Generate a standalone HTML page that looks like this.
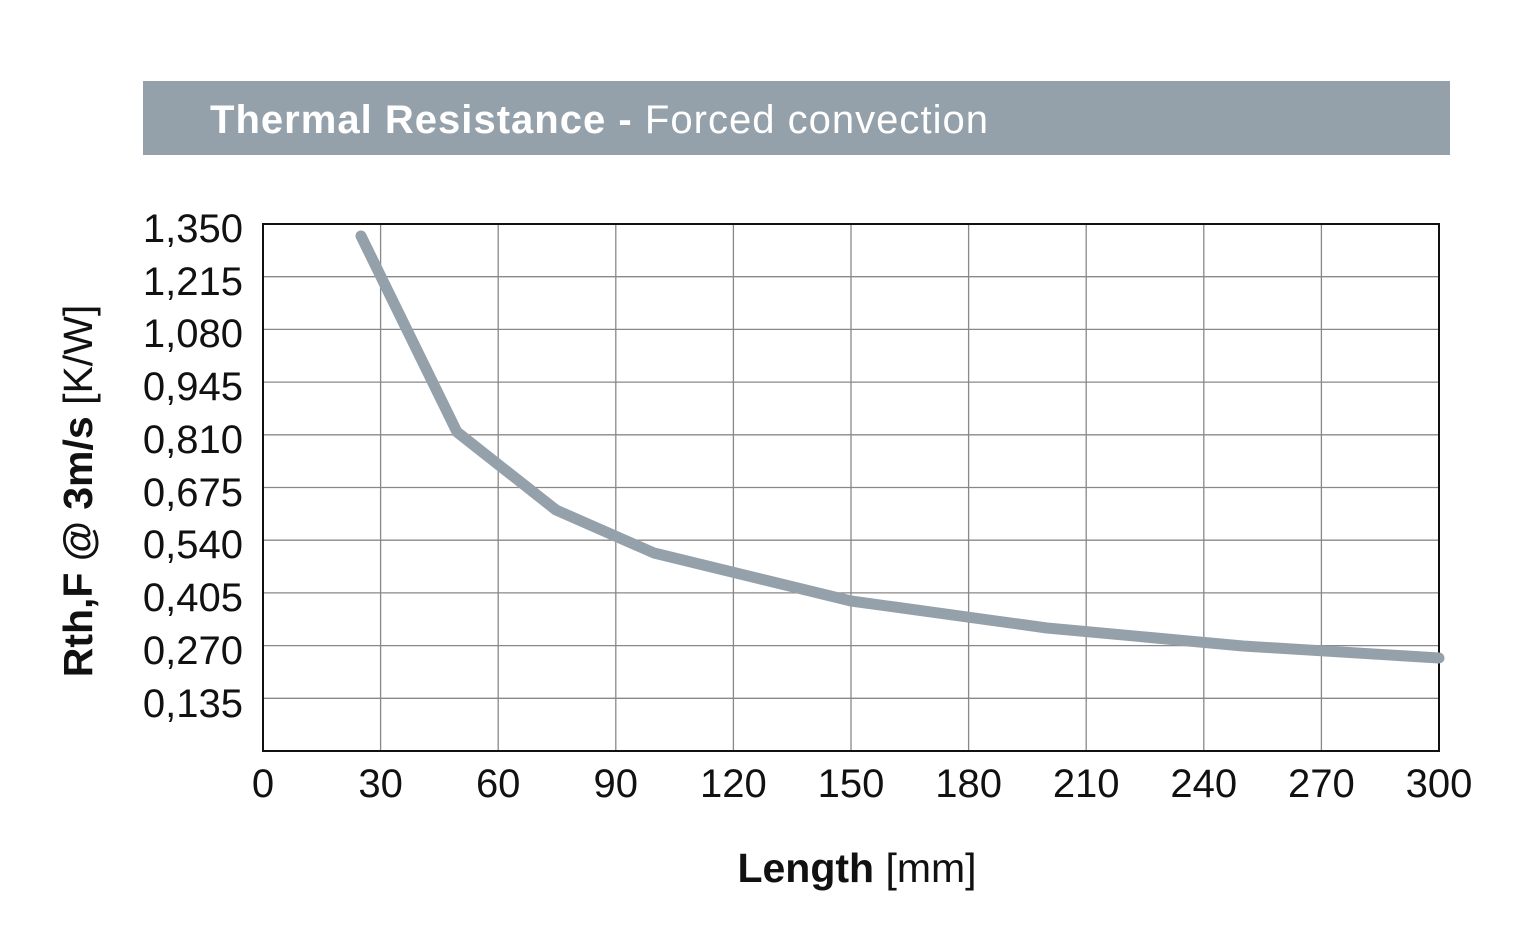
<!DOCTYPE html>
<html><head><meta charset="utf-8"><style>
html,body{margin:0;padding:0;background:#fff;}
</style></head><body>
<svg width="1526" height="947" xmlns="http://www.w3.org/2000/svg" font-family="Liberation Sans, Arial, sans-serif">
<rect x="143" y="81" width="1307" height="74" fill="#95a1aa"/>
<text x="210" y="133" font-size="40" fill="#fff" textLength="778" lengthAdjust="spacing"><tspan font-weight="bold">Thermal Resistance -</tspan> Forced convection</text>
<g stroke="#888" stroke-width="1.3">
<line x1="380.6" y1="224" x2="380.6" y2="751"/>
<line x1="498.2" y1="224" x2="498.2" y2="751"/>
<line x1="615.8" y1="224" x2="615.8" y2="751"/>
<line x1="733.4" y1="224" x2="733.4" y2="751"/>
<line x1="851" y1="224" x2="851" y2="751"/>
<line x1="968.6" y1="224" x2="968.6" y2="751"/>
<line x1="1086.2" y1="224" x2="1086.2" y2="751"/>
<line x1="1203.8" y1="224" x2="1203.8" y2="751"/>
<line x1="1321.4" y1="224" x2="1321.4" y2="751"/>
<line x1="263" y1="276.7" x2="1439" y2="276.7"/>
<line x1="263" y1="329.4" x2="1439" y2="329.4"/>
<line x1="263" y1="382.1" x2="1439" y2="382.1"/>
<line x1="263" y1="434.8" x2="1439" y2="434.8"/>
<line x1="263" y1="487.5" x2="1439" y2="487.5"/>
<line x1="263" y1="540.2" x2="1439" y2="540.2"/>
<line x1="263" y1="592.9" x2="1439" y2="592.9"/>
<line x1="263" y1="645.6" x2="1439" y2="645.6"/>
<line x1="263" y1="698.3" x2="1439" y2="698.3"/>
</g>
<rect x="263" y="224" width="1176" height="527" fill="none" stroke="#111" stroke-width="2"/>
<polyline points="361,236 457,432 556,510 654,553 851,601 1047,628 1243,646 1439,658" fill="none" stroke="#95a1aa" stroke-width="11" stroke-linecap="round" stroke-linejoin="round"/>
<g font-size="40" fill="#111" text-anchor="end">
<text x="243" y="242">1,350</text>
<text x="243" y="295">1,215</text>
<text x="243" y="347">1,080</text>
<text x="243" y="400">0,945</text>
<text x="243" y="453">0,810</text>
<text x="243" y="506">0,675</text>
<text x="243" y="558">0,540</text>
<text x="243" y="611">0,405</text>
<text x="243" y="664">0,270</text>
<text x="243" y="717">0,135</text>
</g>
<g font-size="40" fill="#111" text-anchor="middle">
<text x="263" y="797">0</text>
<text x="380.6" y="797">30</text>
<text x="498.2" y="797">60</text>
<text x="615.8" y="797">90</text>
<text x="733.4" y="797">120</text>
<text x="851" y="797">150</text>
<text x="968.6" y="797">180</text>
<text x="1086.2" y="797">210</text>
<text x="1203.8" y="797">240</text>
<text x="1321.4" y="797">270</text>
<text x="1439" y="797">300</text>
</g>
<text x="857" y="882" font-size="41" fill="#111" text-anchor="middle"><tspan font-weight="bold">Length</tspan> [mm]</text>
<text transform="translate(92,491) rotate(-90)" font-size="41" fill="#111" text-anchor="middle"><tspan font-weight="bold">Rth,F @ 3m/s</tspan> [K/W]</text>
</svg>
</body></html>
